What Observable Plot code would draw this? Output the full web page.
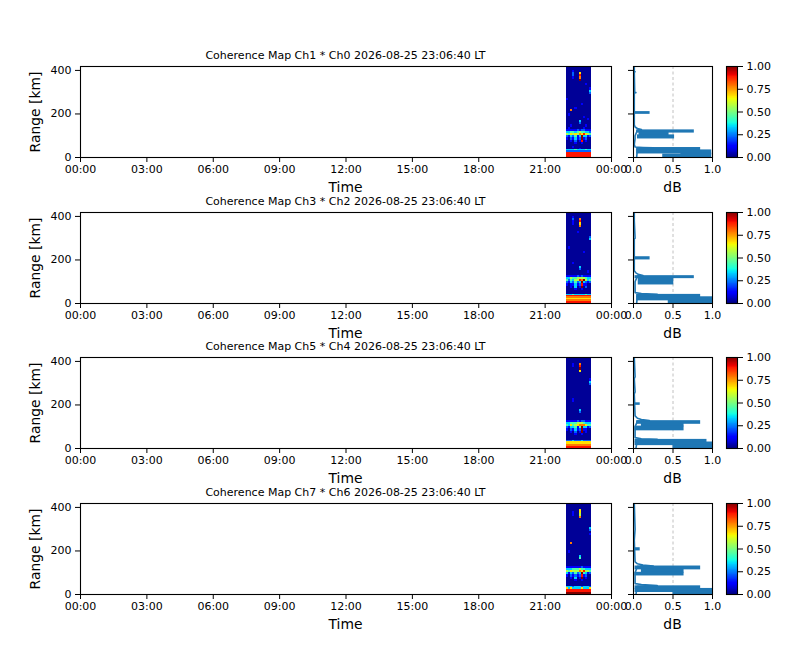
<!DOCTYPE html>
<html><head><meta charset="utf-8">
<script src="https://cdn.jsdelivr.net/npm/d3@7"></script>
<script src="https://cdn.jsdelivr.net/npm/@observablehq/plot@0.6"></script>
<style>
body{margin:0;background:#fff;font-family:"DejaVu Sans",sans-serif;}
#fig{position:relative;width:800px;height:660px;background:#fff;overflow:hidden;}
.svgbox{position:absolute;}
.lbl{position:absolute;white-space:nowrap;color:#000;font-family:"DejaVu Sans",sans-serif;line-height:1;}
</style></head><body><div id="fig"></div>
<script>
// ---------- data ----------
const titles = [
  "Coherence Map Ch1 * Ch0 2026-08-25 23:06:40 LT",
  "Coherence Map Ch3 * Ch2 2026-08-25 23:06:40 LT",
  "Coherence Map Ch5 * Ch4 2026-08-25 23:06:40 LT",
  "Coherence Map Ch7 * Ch6 2026-08-25 23:06:40 LT"
];
const timeTickHours = [0, 3, 6, 9, 12, 15, 18, 21, 24];
const timeTickLabels = ["00:00","03:00","06:00","09:00","12:00","15:00","18:00","21:00","00:00"];
const rangeTicks = [0, 200, 400];
const rangeMax = 418;
const dbTicks = [0, 0.5, 1];
const cbarTicks = [0, 0.25, 0.5, 0.75, 1];
const dataStartHour = 21.967;  // 21:58
const dataEndHour = 23.111;    // 23:06:40
// lower edge (km) of every grid row, top row first; the top row ends at 420 km
const rowBottoms = [410,400,390,380,370,360,350,340,330,320,310,300,290,280,270,260,250,240,230,220,
  210,200,190,180,170,160,150,140,130,120,110,100,90,80,70,60,50,40,35,30,25,20,10,0];
// coherence level per character '0'..'9'
const levels = [0.02, 0.11, 0.22, 0.33, 0.44, 0.56, 0.67, 0.78, 0.89, 1.0];

// grids: one string per row (same order as rowBottoms), one character per time bin
const grid1 = [
"000000000000","000000000000","000100000000","000200600000","000200800000","000100700000",
"000000900000","000000000000","000000000100","000000000000","000000000001","000000000003",
"000000000002","000000000000","000000000000","100000000000","000000000000","000000010000",
"000000000000","000010000000","007000000000","000000000000","010000000000","000000001000",
"000000000010","000000300000","000000200000","001000000100","010000001000","111112122111",
"334434544332","546565768654","213241393312","102131291200","001020180100","000010010000",
"000000000000","000100000000","000000100000","333343333433","222222222222","888888888888",
"888888888888","888888888888"];
const grid2 = [
"000000000000","000000000000","000100000000","000200700000","000100800000","000100600000",
"000000700000","000000000000","000000000000","000001000000","000000000000","000000000002",
"000000000003","000000000000","000000000000","000000000000","010000000000","000000000000",
"000000001000","000000000000","000000000000","000000000000","000000000000","000100000000",
"000000000000","000000300000","000000200000","000000000010","000000000000","111112121111",
"335445555433","424355879534","213242393212","101131281100","001030190200","000010010000",
"000000000000","000000000000","333433333433","888888888888","777777777777","666666666666",
"777777777777","888888888888"];
const grid3 = [
"000000000000","000000000000","000000000000","000100700000","000100800000","000000900000",
"000000600000","000000000000","000000000000","000000000000","000000000001","000000000003",
"000000000002","000000000000","000000000000","000000000000","000000000000","000000000000",
"000000000000","000100000000","000100000000","000000000000","000000000000","000000000000",
"000000300000","000000200000","000000000000","000000000000","000000000000","111112122111",
"334445554333","436456777644","213341493312","102131291100","001020190100","000010010000",
"000000000000","000000000000","000000000000","222322232222","666666666666","666666666666",
"777777777777","888888888888"];
const grid4 = [
"000000000000","000000000000","000000000000","000000600000","000100600000","000100500000",
"000000700000","000000000000","000000000000","000000000000","000000000000","000000000003",
"000000000002","000000000000","000000000001","000000000000","000000000000","000000000000",
"007000000000","000000000000","000000000000","000000000000","010000000000","000000000000",
"000000300000","000000400000","000000000000","000000000000","000000000000","111111121111",
"333444544333","546555768554","313242394312","102121281200","001030190100","000010010000",
"000000000000","000000000000","000000000000","333233323332","636333363336","888888888888",
"888888888888","999999999999"];

// profile baseline lines: [range km, dB]
const line1 = [[418,0.01],[395,0.01],[394,0.02],[392,0.01],[300,0.015],[298,0.03],[296,0.01],[150,0.01],[140,0.02],
  [133,0.05],[128,0.1],[125,0.05],[100,0.02],[87,0.02],[60,0.01],[48,0.02],[46,0.12],[44,0.25],[42,0.05],[0,0.04]];
const line2 = [[418,0.01],[380,0.01],[300,0.02],[296,0.01],[150,0.01],[141,0.03],[134,0.06],[128,0.12],[126,0.05],
  [100,0.02],[87,0.02],[50,0.02],[46,0.1],[42,0.3],[40,0.05],[0,0.04]];
const line3 = [[418,0.01],[330,0.02],[320,0.01],[260,0.02],[250,0.01],[150,0.02],[139,0.05],[133,0.1],[128,0.2],
  [126,0.05],[100,0.02],[83,0.02],[50,0.02],[45,0.1],[42,0.3],[40,0.05],[0,0.03]];
const line4 = [[418,0.01],[300,0.02],[250,0.01],[150,0.02],[141,0.05],[135,0.12],[131,0.25],[129,0.05],[100,0.02],
  [87,0.02],[50,0.02],[46,0.1],[41,0.3],[38,0.05],[0,0.03]];
// dense parts of the profiles: [range low km, range high km, dB low, dB high]
const bands1 = [[200,209,0,0.21],[114,125,0.04,0.77],[102,114,0.07,0.45],[87,102,0.05,0.52],
  [33,44,0.04,0.85],[18,33,0.04,0.99],[14,18,0.6,0.99],[0,14,0.37,0.99]];
const bands2 = [[202,213,0,0.21],[116,126,0.02,0.77],[87,116,0.06,0.51],[29,40,0.04,0.85],[14,29,0.04,1.0],[0,14,0.44,1.0]];
const bands3 = [[200,208,0,0.085],[113,126,0.04,0.85],[101,113,0.1,0.64],[83,101,0.02,0.64],[28,40,0.02,0.93],
  [15,28,0.02,1.0],[0,15,0.5,1.0]];
const bands4 = [[202,213,0,0.085],[115,129,0.02,0.85],[100,115,0.1,0.64],[87,100,0.02,0.64],[26,38,0.02,0.85],
  [11,26,0.02,1.0],[0,14,0.5,1.0]];

const grids = [grid1, grid2, grid3, grid4];
const lines = [line1, line2, line3, line4];
const bands = [bands1, bands2, bands3, bands4];

// ---------- layout ----------
const rowTops = [66, 212, 357, 503];
const frameH = 91;
const heatL = 80, heatW = 531;
const profL = 633, profW = 79;
const cbL = 726, cbW = 11;
const profColor = "#1f77b4";

// matplotlib jet colormap
function jet(t) {
  t = Math.max(0, Math.min(1, t));
  const seg = (pts) => {
    for (let i = 1; i < pts.length; i++) {
      if (t <= pts[i][0]) {
        const [x0, y0] = pts[i-1], [x1, y1] = pts[i];
        return y0 + (y1 - y0) * (t - x0) / (x1 - x0);
      }
    }
    return pts[pts.length-1][1];
  };
  const r = seg([[0,0],[0.35,0],[0.66,1],[0.89,1],[1,0.5]]);
  const g = seg([[0,0],[0.125,0],[0.375,1],[0.64,1],[0.91,0],[1,0]]);
  const b = seg([[0,0.5],[0.11,1],[0.34,1],[0.65,0],[1,0]]);
  return `rgb(${Math.round(r*255)},${Math.round(g*255)},${Math.round(b*255)})`;
}
const colorScale = {type: "linear", domain: [0, 1], interpolate: () => jet};

function cellsFrom(grid) {
  const nCols = grid[0].length;
  const dt = (dataEndHour - dataStartHour) / nCols;
  const out = [];
  grid.forEach((row, i) => {
    const r1 = rowBottoms[i], r2 = i === 0 ? 420 : rowBottoms[i - 1];
    [...row].forEach((ch, j) => {
      out.push({h1: dataStartHour + j * dt, h2: dataStartHour + (j + 1) * dt, r1, r2, v: levels[+ch]});
    });
  });
  return out;
}

const fig = document.getElementById("fig");
const baseStyle = {background: "none", overflow: "visible", fontFamily: "DejaVu Sans, sans-serif", fontSize: "11px", color: "black"};

function place(svg, left, top) {
  const d = document.createElement("div");
  d.className = "svgbox";
  d.style.left = left + "px"; d.style.top = top + "px";
  d.appendChild(svg);
  fig.appendChild(d);
}
function label(text, cx, cy, size, rotate) {
  const d = document.createElement("div");
  d.className = "lbl";
  d.textContent = text;
  d.style.fontSize = size + "px";
  d.style.left = cx + "px"; d.style.top = cy + "px";
  d.style.transform = "translate(-50%,-50%)" + (rotate ? " rotate(-90deg)" : "");
  fig.appendChild(d);
}

rowTops.forEach((top, k) => {
  const mt = 10, mb = 30;
  // heatmap
  const heat = Plot.plot({
    width: heatL + heatW + 20, height: mt + frameH + mb,
    marginLeft: heatL, marginRight: 20, marginTop: mt, marginBottom: mb,
    style: baseStyle,
    x: {domain: [0, 24]},
    y: {domain: [0, rangeMax]},
    color: colorScale,
    marks: [
      Plot.rect(cellsFrom(grids[k]), {x1: "h1", x2: "h2", y1: "r1", y2: "r2", fill: "v", clip: true, shapeRendering: "crispEdges"}),
      Plot.frame({stroke: "black", strokeWidth: 1.1}),
      Plot.axisX({ticks: timeTickHours, tickFormat: (d) => timeTickLabels[timeTickHours.indexOf(d)], tickSize: 5, tickPadding: 3, label: null}),
      Plot.axisY({ticks: rangeTicks, tickSize: 5, tickPadding: 4, label: null})
    ]
  });
  place(heat, 0, top - mt);

  // profile
  const pl = 25;
  const prof = Plot.plot({
    width: pl + profW + 15, height: mt + frameH + mb,
    marginLeft: pl, marginRight: 15, marginTop: mt, marginBottom: mb,
    style: baseStyle,
    x: {domain: [0, 1]},
    y: {domain: [0, rangeMax]},
    marks: [
      Plot.gridX({ticks: [0.5], stroke: "#b0b0b0", strokeOpacity: 1, strokeDasharray: "3,2.5", strokeWidth: 0.8}),
      Plot.rect(bands[k], {y1: d => d[0], y2: d => d[1], x1: d => d[2], x2: d => d[3], fill: profColor, clip: true,
        insetTop: -0.4, insetBottom: -0.4}),
      Plot.line(lines[k], {x: d => d[1], y: d => d[0], stroke: profColor, strokeWidth: 1.6, clip: true}),
      Plot.frame({stroke: "black", strokeWidth: 1.1}),
      Plot.axisX({ticks: dbTicks, tickFormat: ".1f", tickSize: 5, tickPadding: 3, label: null}),
      Plot.axisY({ticks: rangeTicks, tickFormat: () => "", tickSize: 5, label: null})
    ]
  });
  place(prof, profL - pl, top - mt);

  // colorbar
  const cbStops = d3.range(200);
  const cb = Plot.plot({
    width: 5 + cbW + 50, height: mt + frameH + mb,
    marginLeft: 5, marginRight: 50, marginTop: mt, marginBottom: mb,
    style: baseStyle,
    x: {domain: [0, 1], axis: null},
    y: {domain: [0, 1]},
    color: colorScale,
    marks: [
      Plot.rect(cbStops, {x1: () => 0, x2: () => 1, y1: i => i / 200, y2: i => (i + 1) / 200, fill: i => (i + 0.5) / 200, shapeRendering: "crispEdges"}),
      Plot.frame({stroke: "black", strokeWidth: 1.1}),
      Plot.axisY({anchor: "right", ticks: cbarTicks, tickFormat: ".2f", tickSize: 5, tickPadding: 4, label: null})
    ]
  });
  place(cb, cbL - 5, top - mt);

  // texts
  label(titles[k], heatL + heatW / 2, top - 11, 11, false);
  label("Time", heatL + heatW / 2, top + frameH + 31, 13.9, false);
  label("Range [km]", 36, top + frameH / 2, 13.9, true);
  label("dB", profL + profW / 2, top + frameH + 31, 13.9, false);
});
</script></body></html>
